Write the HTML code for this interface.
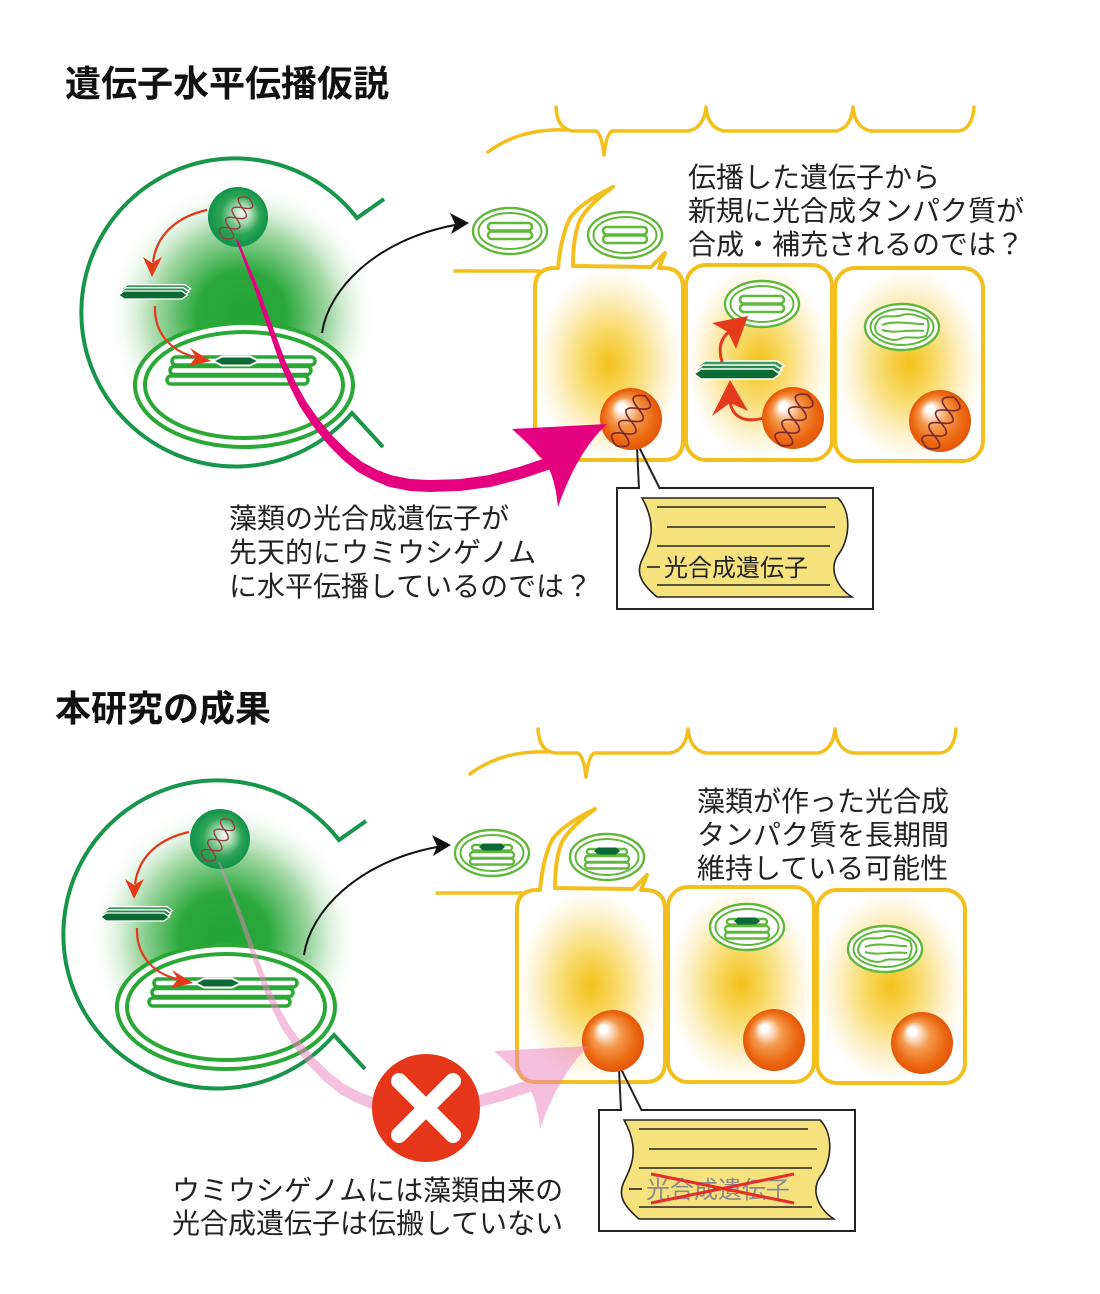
<!DOCTYPE html>
<html><head><meta charset="utf-8">
<style>
html,body{margin:0;padding:0;background:#fff;}
svg{display:block;}
text{font-family:"Liberation Sans","Noto Sans CJK JP",sans-serif;}
</style></head><body>
<svg width="1100" height="1294" viewBox="0 0 1100 1294" xmlns="http://www.w3.org/2000/svg" xmlns:xlink="http://www.w3.org/1999/xlink">
<defs>
 <radialGradient id="glowG" cx="0.5" cy="0.5" r="0.5">
   <stop offset="0" stop-color="#21a336"/>
   <stop offset="0.33" stop-color="#2ba83c"/>
   <stop offset="0.66" stop-color="#a9dbab"/>
   <stop offset="1" stop-color="#ffffff" stop-opacity="0"/>
 </radialGradient>
 <radialGradient id="nucG" cx="0.5" cy="0.5" r="0.5" fx="0.6" fy="0.42">
   <stop offset="0" stop-color="#ffffff"/>
   <stop offset="0.25" stop-color="#b5e0bd"/>
   <stop offset="0.65" stop-color="#2ea556"/>
   <stop offset="1" stop-color="#11914a"/>
 </radialGradient>
 <radialGradient id="orG" cx="0.5" cy="0.5" r="0.5" fx="0.32" fy="0.28">
   <stop offset="0" stop-color="#ffffff"/>
   <stop offset="0.12" stop-color="#ffffff"/>
   <stop offset="0.45" stop-color="#f49a4e"/>
   <stop offset="0.8" stop-color="#ec6912"/>
   <stop offset="1" stop-color="#e2560a"/>
 </radialGradient>
 <radialGradient id="yG" cx="0.5" cy="0.5" r="0.5">
   <stop offset="0" stop-color="#f3c11a"/>
   <stop offset="0.35" stop-color="#f8d965"/>
   <stop offset="0.75" stop-color="#fdf2cf"/>
   <stop offset="1" stop-color="#ffffff"/>
 </radialGradient>

 <g id="helix" fill="none" stroke-width="1.4">
   <path d="M-24,0 Q-18,-16 -12,0 Q-6,16 0,0 Q6,-16 12,0 Q18,16 24,0"/>
   <path d="M-24,0 Q-18,16 -12,0 Q-6,-16 0,0 Q6,16 12,0 Q18,-16 24,0"/>
 </g>

 <g id="stack" stroke="#ffffff" stroke-width="1.6" stroke-linejoin="miter">
   <path d="M-39,-3 L-32,-8 L40,-8 L47,-3 L40,2 L-32,2 Z" fill="#3f9b5c"/>
   <path d="M-41,1 L-34,-4 L38,-4 L45,1 L38,6 L-34,6 Z" fill="#2a8a4b"/>
   <path d="M-43,5 L-36,0 L36,0 L43,5 L36,10 L-36,10 Z" fill="#0b6932"/>
 </g>

 <g id="alga">
   <circle cx="242" cy="316" r="136" fill="url(#glowG)"/>
   <path d="M384,199 L357,218 A154,154 0 1 0 352,413 L383,447" fill="none" stroke="#17954a" stroke-width="4"/>
   <ellipse cx="244" cy="385" rx="109" ry="62" fill="#fff" stroke="#2aa836" stroke-width="4"/>
   <ellipse cx="244" cy="385" rx="99" ry="53" fill="none" stroke="#2aa836" stroke-width="4"/>
   <g fill="#fff" stroke="#2aa836" stroke-width="3.5">
     <rect x="172" y="357" width="143" height="8" rx="4"/>
     <rect x="170" y="366.5" width="141" height="8" rx="4"/>
     <rect x="167" y="376" width="141" height="8" rx="4"/>
   </g>
   <path d="M213,361 L222,356.5 L250,356.5 L259,361 L250,365.5 L222,365.5 Z" fill="#0b6a36" stroke="#fff" stroke-width="2"/>
   <circle cx="238" cy="217" r="30" fill="url(#nucG)"/>
   <use xlink:href="#helix" href="#helix" transform="translate(236,218) rotate(-58)" stroke="#9b3a3a"/>
   <use xlink:href="#stack" href="#stack" transform="translate(153,291) scale(0.8)"/>
   <path d="M207,210 C180,216 157,232 153,262" fill="none" stroke="#e4391b" stroke-width="2.2"/>
   <path d="M152,277 L143,257 L152,263 L162,257 Z" fill="#e4391b"/>
   <path d="M155,306 C154,332 170,351 195,357" fill="none" stroke="#e4391b" stroke-width="2.2"/>
   <path d="M211,361 L190,348 L196,357 L189,366 Z" fill="#e4391b"/>
   <path d="M322,333 C328,290 375,240 455,225" fill="none" stroke="#111" stroke-width="2"/>
   <path d="M469,223 L450,213 L455,224 L451,234 Z" fill="#111"/>
 </g>

 <g id="host">
   <g fill="none" stroke="#f3bf1d" stroke-width="3.5" stroke-linecap="round" stroke-linejoin="round">
     <path d="M556,107 Q557,129 573,131 L596,131 Q602,135 604,155 Q606,135 612,131 L688,131 Q704,128 706,107 Q708,128 724,131 L836,131 Q851,128 853,107 Q855,128 871,131 L958,131 Q972,130 974,107"/>
     <path d="M488,152 Q520,128 566,130"/>
     <path d="M455,271 L540,271"/>
   </g>
   <rect x="535" y="268" width="148" height="192" rx="20" fill="url(#yG)"/>
   <rect x="686" y="265" width="146" height="195" rx="20" fill="url(#yG)"/>
   <rect x="835" y="268" width="148" height="193" rx="20" fill="url(#yG)"/>
   <g fill="none" stroke="#f3bf1d" stroke-width="4" stroke-linejoin="round">
     <path d="M535,288 Q535,268 555,268 L558,268 Q561,236 570,218 Q580,203 613,187 Q588,205 580,220 Q573,236 573,266 L651,267 L665,253 L659,268 L663,268 Q683,268 683,288 L683,440 Q683,460 663,460 L555,460 Q535,460 535,440 Z"/>
     <rect x="686" y="265" width="146" height="195" rx="20"/>
     <rect x="835" y="268" width="148" height="193" rx="20"/>
   </g>
   <rect x="617" y="488" width="256" height="121" fill="#fff" stroke="#222" stroke-width="2"/>
   <line x1="640" y1="488" x2="660" y2="488" stroke="#fff" stroke-width="3"/>
   <path d="M639,489 L637,447 M639,447 L660,489" fill="none" stroke="#222" stroke-width="2"/>
   <path d="M642,498 L838,498 C852,512 850,540 838,555 C828,570 838,588 852,597 L657,597 C643,585 636,575 641,562 C647,548 660,530 642,498 Z" fill="#f6e27c" stroke="#222" stroke-width="1.6"/>
   <g stroke="#222" stroke-width="1.6">
     <line x1="657" y1="507" x2="826" y2="507"/>
     <line x1="667" y1="527" x2="835" y2="527"/>
     <line x1="657" y1="546" x2="830" y2="546"/>
     <line x1="657" y1="585" x2="830" y2="585"/>
     <line x1="647" y1="567" x2="660" y2="567"/>
   </g>
 </g>

 <g id="cp" stroke="#5fb83a">
   <ellipse cx="0" cy="0" rx="37" ry="23" fill="#fff" stroke-width="2.4"/>
   <ellipse cx="0" cy="0" rx="31.5" ry="18" fill="none" stroke-width="2"/>
 </g>
 <g id="cpBars" stroke="#5fb83a" fill="#fff" stroke-width="2.6">
   <rect x="-22" y="-8" width="44" height="7.5" rx="3.7"/>
   <rect x="-22" y="0.5" width="44" height="7.5" rx="3.7"/>
 </g>
 <g id="cpLens">
   <g stroke="#5fb83a" fill="#fff" stroke-width="2.4">
     <rect x="-20" y="-8" width="40" height="5.5" rx="2.7"/>
     <rect x="-22" y="-1" width="44" height="6" rx="3"/>
     <rect x="-22" y="5.5" width="44" height="6" rx="3"/>
   </g>
   <path d="M-13,-6 L-9,-9.5 L9,-9.5 L13,-6 L9,-2.5 L-9,-2.5 Z" fill="#0b6a37"/>
 </g>
 <g id="cpDamaged" fill="none" stroke="#5fb83a" stroke-width="2">
   <path d="M-25,-5 C-20,-15 -8,-8 0,-12 C8,-15 18,-10 25,-8 C28,-2 26,4 24,9 C14,13 6,8 -2,12 C-10,15 -20,10 -25,6 C-28,2 -27,-2 -25,-5 Z"/>
   <path d="M-20,-2 C-8,-7 8,-3 22,-3 M-20,3 C-8,7 8,2 22,4"/>
 </g>
</defs>

<!-- ========== TOP SECTION ========== -->
<text x="65" y="96" font-size="36" font-weight="bold" fill="#111">遺伝子水平伝播仮説</text>

<use xlink:href="#alga" href="#alga"/>
<use xlink:href="#host" href="#host"/>

<g transform="translate(510,231)"><use xlink:href="#cp" href="#cp"/><use xlink:href="#cpBars" href="#cpBars"/></g>
<g transform="translate(625,235)"><use xlink:href="#cp" href="#cp"/><use xlink:href="#cpBars" href="#cpBars"/></g>
<g transform="translate(762,304)"><use xlink:href="#cp" href="#cp"/><use xlink:href="#cpBars" href="#cpBars"/></g>
<g transform="translate(902,327)"><use xlink:href="#cp" href="#cp"/><use xlink:href="#cpDamaged" href="#cpDamaged"/></g>

<use xlink:href="#stack" href="#stack" transform="translate(737,369)"/>
<path d="M764,418 C745,423 733,418 730,402" fill="none" stroke="#e4391b" stroke-width="3"/>
<path d="M730,380 L712,416 L730,403 L748,411 Z" fill="#e4391b"/>
<path d="M722,362 C718,348 721,338 729,332" fill="none" stroke="#e4391b" stroke-width="3"/>
<path d="M748,316 L712,323 L728,332 L736,349 Z" fill="#e4391b"/>

<circle cx="631" cy="419" r="31" fill="url(#orG)"/>
<use xlink:href="#helix" href="#helix" transform="translate(631,421) rotate(-60) scale(1.2)" stroke="#7b2b2e"/>
<circle cx="793" cy="418" r="31" fill="url(#orG)"/>
<use xlink:href="#helix" href="#helix" transform="translate(794,420) rotate(-62) scale(1.2)" stroke="#7b2b2e"/>
<circle cx="940" cy="421" r="31" fill="url(#orG)"/>
<use xlink:href="#helix" href="#helix" transform="translate(941,423) rotate(-62) scale(1.2)" stroke="#7b2b2e"/>

<g fill="#e4007f">
<polygon points="237.9,239.6 248.4,264.4 258.9,289.3 272.4,326.2 285.7,361.8 296.1,383.4 306.3,401.8 319.3,420.2 333.3,436.7 348.1,451.1 362.5,462.3 377,469.9 391.2,475.3 410.3,479 429.8,480 459.2,479.1 488.4,475.2 518.1,467.3 548.1,457.3 551.9,468.7 521.9,478.7 491.6,486.8 460.8,490.9 430.2,492 409.7,491 388.8,486.7 373,480.1 357.5,471.7 341.9,458.9 326.7,443.3 312.7,425.8 299.7,406.2 289.9,386.6 280.3,364.2 267.7,327.9 255.1,290.7 245.6,265.6 236.1,240.4"/>
<path d="M512,429 L607,424 Q577,452 558,507 Q555,476 545,462 Q530,445 512,429 Z"/>
</g>

<text x="664" y="576" font-size="24" fill="#222">光合成遺伝子</text>

<g font-size="28" fill="#222">
 <text x="688" y="187">伝播した遺伝子から</text>
 <text x="688" y="220.5">新規に光合成タンパク質が</text>
 <text x="688" y="254">合成・補充されるのでは？</text>
 <text x="229" y="528">藻類の光合成遺伝子が</text>
 <text x="229" y="562">先天的にウミウシゲノム</text>
 <text x="229" y="596">に水平伝播しているのでは？</text>
</g>

<!-- ========== BOTTOM SECTION ========== -->
<text x="55" y="721" font-size="36" font-weight="bold" fill="#111">本研究の成果</text>

<g transform="translate(-18,622)">
 <use xlink:href="#alga" href="#alga"/>
 <use xlink:href="#host" href="#host"/>
 <g transform="translate(510,231)"><use xlink:href="#cp" href="#cp"/><use xlink:href="#cpLens" href="#cpLens"/></g>
 <g transform="translate(625,235)"><use xlink:href="#cp" href="#cp"/><use xlink:href="#cpLens" href="#cpLens"/></g>
 <g transform="translate(765,305)"><use xlink:href="#cp" href="#cp"/><use xlink:href="#cpLens" href="#cpLens"/></g>
 <g transform="translate(903,327)"><use xlink:href="#cp" href="#cp"/><use xlink:href="#cpDamaged" href="#cpDamaged"/></g>
 <circle cx="631" cy="419" r="31" fill="url(#orG)"/>
 <circle cx="792" cy="418" r="31" fill="url(#orG)"/>
 <circle cx="940" cy="421" r="31" fill="url(#orG)"/>
</g>

<g transform="translate(-18,622)" fill="#ec7fbd" opacity="0.5">
<polygon points="237.9,239.6 248.4,264.4 258.9,289.3 272.4,326.2 285.7,361.8 296.1,383.4 306.3,401.8 319.3,420.2 333.3,436.7 348.1,451.1 362.5,462.3 377,469.9 391.2,475.3 410.3,479 429.8,480 459.2,479.1 488.4,475.2 518.1,467.3 548.1,457.3 551.9,468.7 521.9,478.7 491.6,486.8 460.8,490.9 430.2,492 409.7,491 388.8,486.7 373,480.1 357.5,471.7 341.9,458.9 326.7,443.3 312.7,425.8 299.7,406.2 289.9,386.6 280.3,364.2 267.7,327.9 255.1,290.7 245.6,265.6 236.1,240.4"/>
<path d="M512,429 L607,424 Q577,452 558,507 Q555,476 545,462 Q530,445 512,429 Z"/>
</g>

<circle cx="426" cy="1108" r="54" fill="#e5361a"/>
<g stroke="#fff" stroke-width="16" stroke-linecap="round">
 <line x1="399" y1="1081" x2="453" y2="1135"/>
 <line x1="453" y1="1081" x2="399" y2="1135"/>
</g>

<text x="646" y="1198" font-size="24" fill="#8a8a8a">光合成遺伝子</text>
<g stroke="#e62d2d" stroke-width="3">
 <line x1="651" y1="1174" x2="794" y2="1203"/>
 <line x1="651" y1="1203" x2="794" y2="1174"/>
</g>

<g font-size="28" fill="#222">
 <text x="697" y="811">藻類が作った光合成</text>
 <text x="697" y="844.5">タンパク質を長期間</text>
 <text x="697" y="878">維持している可能性</text>
 <text x="172" y="1200">ウミウシゲノムには藻類由来の</text>
 <text x="172" y="1233">光合成遺伝子は伝搬していない</text>
</g>
</svg>
</body></html>
